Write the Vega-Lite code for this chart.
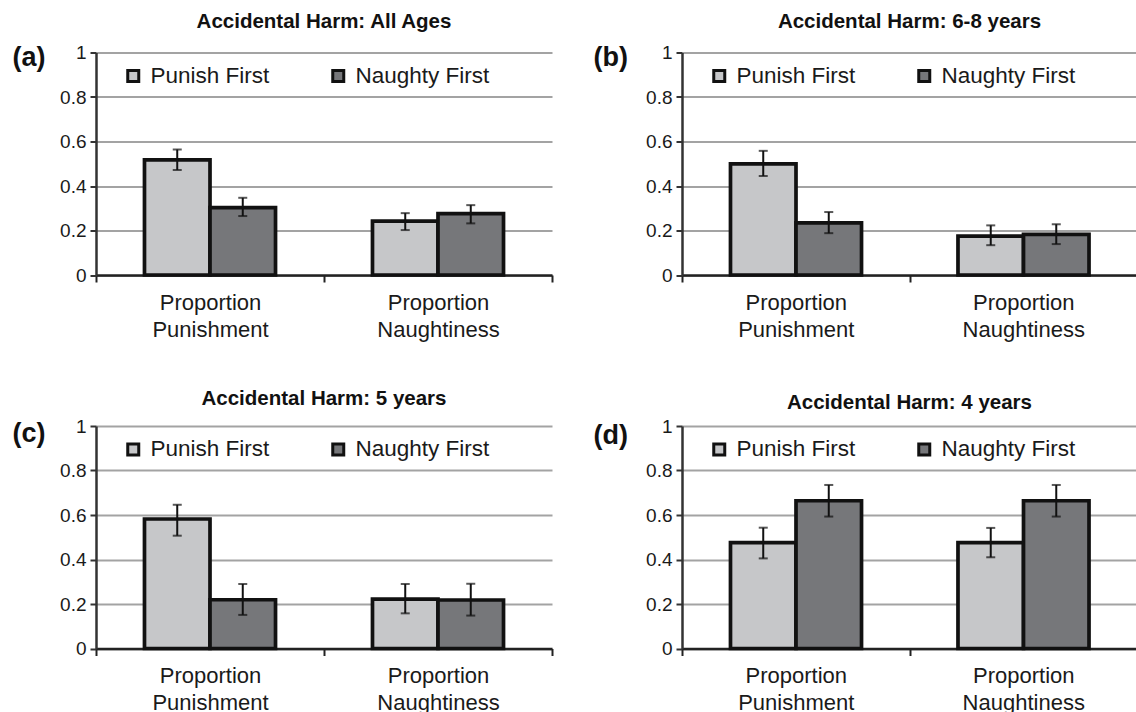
{
  "$schema": "https://vega.github.io/schema/vega-lite/v6.json",
  "background": "white",
  "padding": {"left": 12, "top": 11.5, "right": 0, "bottom": 0},
  "data": {"values": [
    {"panel": "a", "measure": "Proportion Punishment", "condition": "Punish First", "value": 0.517, "lo": 0.472, "hi": 0.564},
    {"panel": "a", "measure": "Proportion Punishment", "condition": "Naughty First", "value": 0.303, "lo": 0.265, "hi": 0.347},
    {"panel": "a", "measure": "Proportion Naughtiness", "condition": "Punish First", "value": 0.242, "lo": 0.202, "hi": 0.278},
    {"panel": "a", "measure": "Proportion Naughtiness", "condition": "Naughty First", "value": 0.276, "lo": 0.232, "hi": 0.314},
    {"panel": "b", "measure": "Proportion Punishment", "condition": "Punish First", "value": 0.499, "lo": 0.445, "hi": 0.558},
    {"panel": "b", "measure": "Proportion Punishment", "condition": "Naughty First", "value": 0.234, "lo": 0.188, "hi": 0.283},
    {"panel": "b", "measure": "Proportion Naughtiness", "condition": "Punish First", "value": 0.175, "lo": 0.134, "hi": 0.223},
    {"panel": "b", "measure": "Proportion Naughtiness", "condition": "Naughty First", "value": 0.183, "lo": 0.139, "hi": 0.228},
    {"panel": "c", "measure": "Proportion Punishment", "condition": "Punish First", "value": 0.582, "lo": 0.507, "hi": 0.646},
    {"panel": "c", "measure": "Proportion Punishment", "condition": "Naughty First", "value": 0.219, "lo": 0.151, "hi": 0.29},
    {"panel": "c", "measure": "Proportion Naughtiness", "condition": "Punish First", "value": 0.222, "lo": 0.158, "hi": 0.29},
    {"panel": "c", "measure": "Proportion Naughtiness", "condition": "Naughty First", "value": 0.218, "lo": 0.148, "hi": 0.291},
    {"panel": "d", "measure": "Proportion Punishment", "condition": "Punish First", "value": 0.476, "lo": 0.405, "hi": 0.543},
    {"panel": "d", "measure": "Proportion Punishment", "condition": "Naughty First", "value": 0.664, "lo": 0.593, "hi": 0.735},
    {"panel": "d", "measure": "Proportion Naughtiness", "condition": "Punish First", "value": 0.476, "lo": 0.41, "hi": 0.542},
    {"panel": "d", "measure": "Proportion Naughtiness", "condition": "Naughty First", "value": 0.664, "lo": 0.593, "hi": 0.735}
  ]},
  "columns": 2,
  "spacing": {"row": 150.5, "column": 130},
  "bounds": "flush",
  "resolve": {"legend": {"color": "independent"}},
  "concat": [
    {
      "transform": [{"filter": "datum.panel === 'a'"}],
      "width": 456, "height": 222.5,
      "title": {"text": "Accidental Harm: All Ages", "offset": 10.7},
      "encoding": {
        "x": {"field": "measure", "type": "nominal", "sort": ["Proportion Punishment", "Proportion Naughtiness"], "scale": {"paddingInner": 0, "paddingOuter": 0}, "axis": {"title": null}},
        "xOffset": {"field": "condition", "type": "nominal", "sort": ["Punish First", "Naughty First"], "scale": {"paddingInner": 0, "paddingOuter": 0.74}}
      },
      "layer": [
        {"mark": {"type": "bar", "stroke": "#111", "strokeWidth": 3.7},
         "encoding": {
           "y": {"field": "value", "type": "quantitative", "scale": {"domain": [0, 1]}, "axis": {"title": "(a)", "titleX": -84, "titleY": 13.3, "labelFontSize": 19}},
           "color": {"field": "condition", "type": "nominal", "sort": ["Punish First", "Naughty First"], "scale": {"domain": ["Punish First", "Naughty First"], "range": ["#c6c7c9", "#76777a"]}}
         }},
        {"mark": {"type": "rule", "color": "#111", "strokeWidth": 2}, "encoding": {"y": {"field": "lo", "type": "quantitative"}, "y2": {"field": "hi"}}},
        {"mark": {"type": "tick", "color": "#111", "thickness": 2, "size": 9}, "encoding": {"y": {"field": "lo", "type": "quantitative"}}},
        {"mark": {"type": "tick", "color": "#111", "thickness": 2, "size": 9}, "encoding": {"y": {"field": "hi", "type": "quantitative"}}}
      ]
    },
    {
      "transform": [{"filter": "datum.panel === 'b'"}],
      "width": 455, "height": 222.5,
      "title": {"text": "Accidental Harm: 6-8 years", "offset": 10.7},
      "encoding": {
        "x": {"field": "measure", "type": "nominal", "sort": ["Proportion Punishment", "Proportion Naughtiness"], "scale": {"paddingInner": 0, "paddingOuter": 0}, "axis": {"title": null}},
        "xOffset": {"field": "condition", "type": "nominal", "sort": ["Punish First", "Naughty First"], "scale": {"paddingInner": 0, "paddingOuter": 0.74}}
      },
      "layer": [
        {"mark": {"type": "bar", "stroke": "#111", "strokeWidth": 3.7},
         "encoding": {
           "y": {"field": "value", "type": "quantitative", "scale": {"domain": [0, 1]}, "axis": {"title": "(b)", "titleX": -89, "titleY": 13.3, "labelFontSize": 19}},
           "color": {"field": "condition", "type": "nominal", "sort": ["Punish First", "Naughty First"], "scale": {"domain": ["Punish First", "Naughty First"], "range": ["#c6c7c9", "#76777a"]}}
         }},
        {"mark": {"type": "rule", "color": "#111", "strokeWidth": 2}, "encoding": {"y": {"field": "lo", "type": "quantitative"}, "y2": {"field": "hi"}}},
        {"mark": {"type": "tick", "color": "#111", "thickness": 2, "size": 9}, "encoding": {"y": {"field": "lo", "type": "quantitative"}}},
        {"mark": {"type": "tick", "color": "#111", "thickness": 2, "size": 9}, "encoding": {"y": {"field": "hi", "type": "quantitative"}}}
      ]
    },
    {
      "transform": [{"filter": "datum.panel === 'c'"}],
      "width": 456, "height": 222.5,
      "title": {"text": "Accidental Harm: 5 years", "offset": 7.4},
      "encoding": {
        "x": {"field": "measure", "type": "nominal", "sort": ["Proportion Punishment", "Proportion Naughtiness"], "scale": {"paddingInner": 0, "paddingOuter": 0}, "axis": {"title": null}},
        "xOffset": {"field": "condition", "type": "nominal", "sort": ["Punish First", "Naughty First"], "scale": {"paddingInner": 0, "paddingOuter": 0.74}}
      },
      "layer": [
        {"mark": {"type": "bar", "stroke": "#111", "strokeWidth": 3.7},
         "encoding": {
           "y": {"field": "value", "type": "quantitative", "scale": {"domain": [0, 1]}, "axis": {"title": "(c)", "titleX": -84, "titleY": 15.3, "labelFontSize": 19}},
           "color": {"field": "condition", "type": "nominal", "sort": ["Punish First", "Naughty First"], "scale": {"domain": ["Punish First", "Naughty First"], "range": ["#c6c7c9", "#76777a"]}}
         }},
        {"mark": {"type": "rule", "color": "#111", "strokeWidth": 2}, "encoding": {"y": {"field": "lo", "type": "quantitative"}, "y2": {"field": "hi"}}},
        {"mark": {"type": "tick", "color": "#111", "thickness": 2, "size": 9}, "encoding": {"y": {"field": "lo", "type": "quantitative"}}},
        {"mark": {"type": "tick", "color": "#111", "thickness": 2, "size": 9}, "encoding": {"y": {"field": "hi", "type": "quantitative"}}}
      ]
    },
    {
      "transform": [{"filter": "datum.panel === 'd'"}],
      "width": 455, "height": 222.5,
      "title": {"text": "Accidental Harm: 4 years", "offset": 4},
      "encoding": {
        "x": {"field": "measure", "type": "nominal", "sort": ["Proportion Punishment", "Proportion Naughtiness"], "scale": {"paddingInner": 0, "paddingOuter": 0}, "axis": {"title": null}},
        "xOffset": {"field": "condition", "type": "nominal", "sort": ["Punish First", "Naughty First"], "scale": {"paddingInner": 0, "paddingOuter": 0.74}}
      },
      "layer": [
        {"mark": {"type": "bar", "stroke": "#111", "strokeWidth": 3.7},
         "encoding": {
           "y": {"field": "value", "type": "quantitative", "scale": {"domain": [0, 1]}, "axis": {"title": "(d)", "titleX": -89, "titleY": 17, "labelFontSize": 19}},
           "color": {"field": "condition", "type": "nominal", "sort": ["Punish First", "Naughty First"], "scale": {"domain": ["Punish First", "Naughty First"], "range": ["#c6c7c9", "#76777a"]}}
         }},
        {"mark": {"type": "rule", "color": "#111", "strokeWidth": 2}, "encoding": {"y": {"field": "lo", "type": "quantitative"}, "y2": {"field": "hi"}}},
        {"mark": {"type": "tick", "color": "#111", "thickness": 2, "size": 9}, "encoding": {"y": {"field": "lo", "type": "quantitative"}}},
        {"mark": {"type": "tick", "color": "#111", "thickness": 2, "size": 9}, "encoding": {"y": {"field": "hi", "type": "quantitative"}}}
      ]
    }
  ],
  "config": {
    "font": "Liberation Sans",
    "view": {"stroke": null},
    "title": {"fontSize": 20.5, "fontWeight": "bold", "color": "#111", "anchor": "middle", "frame": "group"},
    "axisY": {
      "values": [0, 0.2, 0.4, 0.6, 0.8, 1], "format": "~g",
      "domainColor": "#333", "domainWidth": 2.5,
      "tickColor": "#333", "tickWidth": 2, "tickSize": 6,
      "gridColor": "#a3a3a3", "gridWidth": 2,
      "labelFontSize": 19, "labelColor": "#1a1a1a", "labelPadding": 4,
      "titleAngle": 0, "titleAlign": "left", "titleBaseline": "alphabetic",
      "titleFontSize": 27, "titleFontWeight": "bold", "titleColor": "#111"
    },
    "axisX": {
      "domainColor": "#222", "domainWidth": 2.5,
      "tickBand": "extent", "tickColor": "#222", "tickWidth": 2, "tickSize": 7,
      "grid": false, "labelAngle": 0,
      "labelExpr": "split(datum.label, ' ')",
      "labelFontSize": 22, "labelLineHeight": 27, "labelColor": "#1a1a1a", "labelPadding": 10
    },
    "legend": {
      "orient": "none", "legendX": 26, "legendY": 12,
      "direction": "horizontal", "columns": 2, "columnPadding": 56,
      "title": null,
      "symbolType": "square", "symbolSize": 121,
      "symbolStrokeColor": "#111", "symbolStrokeWidth": 3,
      "labelFontSize": 22.5, "labelColor": "#1a1a1a", "labelOffset": 6
    }
  }
}
